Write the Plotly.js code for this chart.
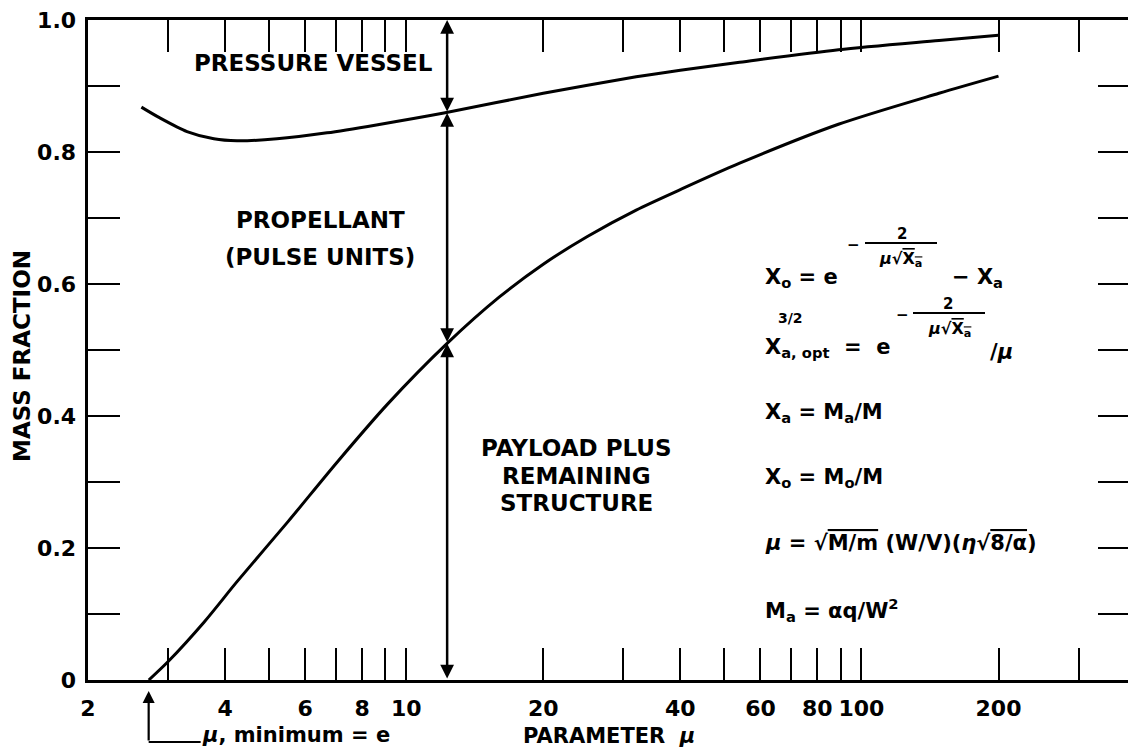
<!DOCTYPE html>
<html>
<head>
<meta charset="utf-8">
<script src="https://cdn.plot.ly/plotly-3.0.1.min.js"></script>
<style>
  html, body { margin: 0; padding: 0; background: #fff; }
  #chart { width: 1128px; height: 750px; }
</style>
</head>
<body>
<div id="chart"></div>
<script>
// ---- data ----
const muVessel = [2.62, 2.87, 3.3, 3.78, 4.25, 5.2, 6.7, 8.6, 12.1, 20, 32, 40, 54, 89, 148, 200];
const vesselBoundary = [0.868, 0.852, 0.831, 0.820, 0.817, 0.820, 0.829, 0.841, 0.859, 0.889, 0.914, 0.924, 0.936, 0.955, 0.969, 0.977];

const muPayload = [2.72, 3.0, 3.6, 4.25, 5.5, 7.05, 9.1, 12.3, 16, 20, 25, 32, 40, 54, 89, 148, 200];
const payloadBoundary = [0, 0.028, 0.088, 0.149, 0.240, 0.330, 0.418, 0.51, 0.580, 0.630, 0.672, 0.712, 0.743, 0.783, 0.842, 0.889, 0.915];

const xTickVals = [2, 3, 4, 5, 6, 7, 8, 9, 10, 20, 30, 40, 50, 60, 70, 80, 90, 100, 200, 300];
const xTickText = ['2', '', '4', '', '6', '', '8', '', '10', '20', '', '40', '', '60', '', '80', '', '100', '200', ''];
const yTickVals = [0, 0.1, 0.2, 0.3, 0.4, 0.5, 0.6, 0.7, 0.8, 0.9, 1.0];
const yTickText = ['0', '', '0.2', '', '0.4', '', '0.6', '', '0.8', '', '1.0'];

const muOptimum = 12.3;                        // dimension line position
const dimensionLevels = [1.0, 0.859, 0.51, 0]; // top, vessel boundary, payload boundary, bottom
const muMinimum = Math.E;                      // μ minimum = e
const xRange = [2, 385];

// ---- layout helpers (pixel -> paper) ----
const L = 88, R = 1128, T = 20, B = 680;
const px = p => (p - L) / (R - L);
const py = p => (B - p) / (B - T);

const FAM = 'DejaVu Sans';
const font = (size) => ({family: FAM, size: size, color: '#000', weight: 'bold'});

const lineStyle = {color: '#000', width: 3, shape: 'spline', smoothing: 0.8};

const traces = [
  {x: muVessel, y: vesselBoundary, mode: 'lines', line: lineStyle, hoverinfo: 'skip', showlegend: false},
  {x: muPayload, y: payloadBoundary, mode: 'lines', line: lineStyle, hoverinfo: 'skip', showlegend: false},
  {x: [10], y: [null], yaxis: 'y2', mode: 'lines', hoverinfo: 'skip', showlegend: false}
];

const annotations = [];
function txt(text, x, y, size, xanchor, extra) {
  annotations.push(Object.assign({
    text: text, xref: 'paper', yref: 'paper', x: px(x), y: py(y),
    xanchor: xanchor || 'center', yanchor: 'middle', showarrow: false, font: font(size)
  }, extra || {}));
}
const OV = s => '<span style="text-decoration:overline">' + s + '</span>';

// dimension line with arrows
for (let i = 0; i < dimensionLevels.length - 1; i++) {
  annotations.push({
    xref: 'x', yref: 'y', axref: 'x', ayref: 'y',
    x: Math.log10(muOptimum), y: dimensionLevels[i],
    ax: Math.log10(muOptimum), ay: dimensionLevels[i + 1],
    text: '', showarrow: true, arrowside: 'end+start',
    arrowhead: 2, startarrowhead: 2, arrowsize: 1.1, startarrowsize: 1.1,
    arrowwidth: 2.5, arrowcolor: '#000', standoff: 0, startstandoff: 0
  });
}

// μ minimum = e pointer
annotations.push({
  xref: 'x', yref: 'y', x: Math.log10(muMinimum), y: 0,
  ax: 0, ay: 62, text: '', showarrow: true, arrowhead: 2, arrowsize: 1.1,
  arrowwidth: 2.2, arrowcolor: '#000', standoff: 11
});
txt('<i>μ</i>, minimum = e', 200, 735, 21, 'left');

// region labels
txt('PRESSURE VESSEL', 313, 63, 23);
txt('PROPELLANT', 320, 220, 23);
txt('(PULSE UNITS)', 320, 257, 23);
txt('PAYLOAD PLUS', 576, 448, 23);
txt('REMAINING', 576, 476, 23);
txt('STRUCTURE', 576, 503, 23);

// axis titles
txt('PARAMETER  <i>μ</i>', 521, 736, 21, 'left');
txt('MASS FRACTION', 22, 356, 23, 'center', {textangle: -90});

// equations
const EQ = 21;
txt('X<sub>o</sub> = e', 763, 278, EQ, 'left');
txt('−', 853, 245, 15);
txt('2', 902, 234, 15);
txt('<i>μ</i>√' + OV('X<sub>a</sub>'), 900, 259, 16);
txt('− X<sub>a</sub>', 950, 278, EQ, 'left');

txt('X<sub>a, opt</sub>  =  e', 763, 348, EQ, 'left');
txt('3/2', 790, 318, 14);
txt('−', 902, 315, 15);
txt('2', 948, 304, 15);
txt('<i>μ</i>√' + OV('X<sub>a</sub>'), 949, 329, 16);
txt('/<i>μ</i>', 988, 352, EQ, 'left');

txt('X<sub>a</sub> = M<sub>a</sub>/M', 763, 413, EQ, 'left');
txt('X<sub>o</sub> = M<sub>o</sub>/M', 763, 478, EQ, 'left');
txt('<i>μ</i> = √' + OV('M/m') + ' (W/V)(<i>η</i>√' + OV('8/α') + ')', 763, 543, EQ, 'left');
txt('M<sub>a</sub> = αq/W<sup>2</sup>', 763, 610, EQ, 'left');

const shapes = [
  // fraction bars in the exponents
  {type: 'line', xref: 'paper', yref: 'paper', x0: px(865), x1: px(937), y0: py(243), y1: py(243), line: {color: '#000', width: 2}},
  {type: 'line', xref: 'paper', yref: 'paper', x0: px(913), x1: px(985), y0: py(313), y1: py(313), line: {color: '#000', width: 2}},
  // leader from the μ = e arrow to its label
  {type: 'line', xref: 'x', xsizemode: 'pixel', xanchor: muMinimum, x0: 0, x1: 52,
   yref: 'paper', y0: py(742), y1: py(742), line: {color: '#000', width: 2.2}}
];

const layout = {
  width: 1128, height: 750,
  margin: {l: L, r: 1128 - R, t: T, b: 750 - B, pad: 0},
  paper_bgcolor: '#fff', plot_bgcolor: '#fff',
  showlegend: false,
  font: font(22),
  xaxis: {
    type: 'log', range: [Math.log10(xRange[0]), Math.log10(xRange[1])],
    tickmode: 'array', tickvals: xTickVals, ticktext: xTickText,
    ticks: 'inside', ticklen: 32, tickwidth: 2, tickcolor: '#000',
    showline: true, linewidth: 3, linecolor: '#000', mirror: 'ticks',
    showgrid: false, zeroline: false, ticklabelstandoff: 7,
    tickfont: font(22)
  },
  yaxis: {
    range: [0, 1], tickmode: 'array', tickvals: yTickVals, ticktext: yTickText,
    ticks: 'inside', ticklen: 32, tickwidth: 2, tickcolor: '#000',
    showline: true, linewidth: 3.5, linecolor: '#000',
    showgrid: false, zeroline: false, tickfont: font(22), ticklabelstandoff: 4
  },
  yaxis2: {
    overlaying: 'y', side: 'right', range: [0, 1], tickmode: 'array', tickvals: yTickVals,
    ticks: 'inside', ticklen: 30, tickwidth: 2, tickcolor: '#000',
    showticklabels: false, showline: false, showgrid: false, zeroline: false
  },
  annotations: annotations,
  shapes: shapes
};

Plotly.newPlot('chart', traces, layout, {staticPlot: true, displayModeBar: false});
</script>
</body>
</html>
